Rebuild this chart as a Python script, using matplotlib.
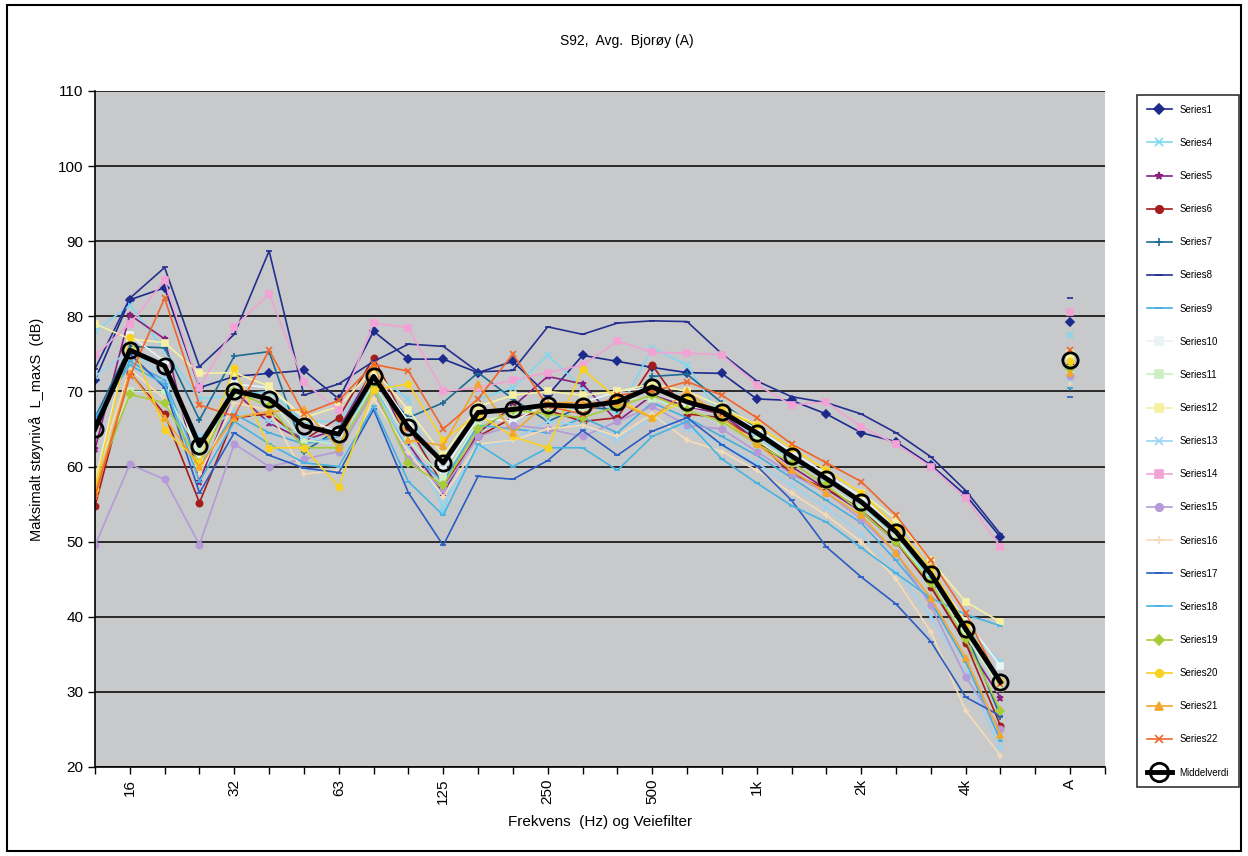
import numpy as np
import matplotlib
matplotlib.use("Agg")
import matplotlib.pyplot as plt
from matplotlib.patches import Rectangle

plt.rcParams['font.family'] = ['Liberation Sans', 'DejaVu Sans']

# 1/3-octave bands 12.5 Hz .. 5 kHz, then an empty slot, then the A-weighted value
bands = ['12.5', '16', '20', '25', '31.5', '40', '50', '63', '80', '100', '125', '160',
         '200', '250', '315', '400', '500', '630', '800', '1k', '1.25k', '1.6k', '2k',
         '2.5k', '3.15k', '4k', '5k']
tick_pos = [1, 4, 7, 10, 13, 16, 19, 22, 25, 28]
tick_labels = ['16', '32', '63', '125', '250', '500', '1k', '2k', '4k', 'A']

series_names = ['Series1', 'Series4', 'Series5', 'Series6', 'Series7', 'Series8', 'Series9',
                'Series10', 'Series11', 'Series12', 'Series13', 'Series14', 'Series15',
                'Series16', 'Series17', 'Series18', 'Series19', 'Series20', 'Series21',
                'Series22']

s1 = [71.5, 82.2, 83.8, 70.5, 72.0, 72.4, 72.8, 69.0, 78.0, 74.3, 74.3, 72.5, 74.0, 69.5,
      74.8, 74.0, 73.2, 72.5, 72.4, 69.0, 68.8, 67.0, 64.5, 63.3, 60.2, 56.2, 50.6]
s4 = [78.0, 81.5, 75.5, 69.0, 69.5, 70.0, 66.0, 66.0, 72.5, 69.0, 54.0, 69.0, 70.5, 74.8,
      70.5, 67.0, 75.8, 73.5, 66.5, 64.0, 61.0, 58.5, 55.0, 50.5, 45.0, 38.5, 34.0]
s5 = [62.3, 80.2, 77.0, 58.0, 70.0, 65.8, 63.5, 65.0, 73.0, 63.0, 56.5, 64.5, 68.0, 72.0,
      71.0, 66.0, 69.5, 68.0, 67.0, 63.5, 60.0, 57.0, 54.0, 50.0, 44.0, 36.5, 29.2]
s6 = [54.7, 72.5, 67.0, 55.2, 66.5, 67.0, 63.5, 66.5, 74.5, 65.3, 57.5, 64.0, 66.5, 67.5,
      66.0, 66.5, 73.5, 67.0, 66.5, 63.5, 59.0, 57.0, 54.5, 50.0, 44.0, 36.5, 25.5]
s7 = [66.5, 76.0, 75.8, 66.2, 74.7, 75.3, 62.0, 65.0, 71.5, 66.5, 68.5, 72.5, 69.0, 66.0,
      68.0, 67.5, 72.0, 72.3, 68.5, 65.0, 61.5, 58.5, 55.5, 51.5, 45.5, 38.0, 26.7]
s8 = [73.0, 82.4, 86.5, 73.3, 77.6, 88.7, 69.5, 71.0, 74.0, 76.3, 76.0, 72.6, 72.8, 78.6,
      77.6, 79.1, 79.4, 79.3, 75.0, 71.4, 69.3, 68.5, 67.0, 64.5, 61.3, 56.8, 51.0]
s9 = [66.0, 74.0, 71.5, 60.0, 67.0, 64.5, 63.0, 64.0, 71.0, 62.0, 58.0, 65.5, 65.0, 64.5,
      66.5, 64.5, 68.5, 66.5, 64.0, 61.5, 58.5, 55.5, 52.5, 47.5, 42.0, 34.0, 23.5]
s10 = [58.0, 77.5, 74.0, 61.0, 71.0, 70.5, 66.5, 64.5, 72.5, 66.0, 59.5, 66.5, 66.0, 68.5,
       68.5, 70.0, 70.5, 68.0, 67.5, 65.0, 62.0, 59.0, 56.0, 52.0, 46.0, 39.5, 33.5]
s11 = [59.0, 70.0, 70.0, 62.0, 69.5, 69.0, 63.5, 63.0, 71.0, 63.5, 58.5, 66.0, 67.0, 67.5,
       67.5, 69.0, 69.0, 67.5, 66.0, 63.5, 60.5, 57.5, 54.5, 50.5, 44.5, 37.5, 30.5]
s12 = [79.0, 77.0, 76.5, 72.4, 72.5, 70.7, 66.5, 68.0, 73.0, 67.5, 61.5, 68.0, 69.5, 70.0,
       69.5, 70.0, 71.0, 70.0, 68.0, 65.5, 62.5, 59.5, 56.5, 53.0, 47.5, 42.0, 39.3]
s13 = [72.0, 75.5, 72.0, 64.0, 67.5, 66.0, 64.0, 63.0, 70.5, 62.5, 55.0, 62.5, 63.5, 66.0,
       65.5, 63.5, 66.5, 65.0, 63.0, 60.5, 57.5, 54.5, 51.0, 46.0, 40.0, 32.5, 22.5]
s14 = [74.8, 79.0, 84.8, 70.5, 78.6, 83.0, 71.2, 67.5, 79.1, 78.5, 70.0, 70.5, 71.5, 72.5,
       73.5, 76.7, 75.2, 75.1, 74.9, 70.9, 68.2, 68.6, 65.3, 63.0, 60.0, 55.8, 49.3]
s15 = [49.5, 60.3, 58.3, 49.6, 63.0, 60.0, 61.0, 62.0, 70.0, 61.0, 57.0, 64.0, 65.5, 65.0,
       64.0, 66.0, 68.0, 65.5, 65.0, 62.0, 59.0, 56.5, 53.0, 48.5, 41.5, 32.0, 25.0]
s16 = [58.5, 73.0, 69.0, 59.0, 68.5, 67.5, 59.0, 59.5, 69.0, 62.0, 56.0, 63.0, 63.5, 65.0,
       65.5, 64.0, 67.0, 63.5, 62.0, 59.5, 56.5, 53.5, 50.0, 45.0, 38.0, 27.5, 21.5]
s17 = [66.0, 75.0, 70.5, 56.5, 64.5, 61.5, 59.8, 59.2, 67.6, 56.5, 49.5, 58.7, 58.3, 60.8,
       64.8, 61.5, 64.7, 66.5, 62.9, 60.1, 55.5, 49.3, 45.3, 41.7, 36.7, 29.3, 26.8]
s18 = [66.5, 73.5, 71.0, 58.0, 66.0, 63.0, 60.5, 60.0, 68.0, 58.0, 53.5, 63.0, 60.0, 62.5,
       62.5, 59.5, 64.0, 66.0, 61.0, 57.8, 54.8, 52.6, 49.2, 45.8, 42.5, 40.3, 38.8]
s19 = [57.5, 69.6, 68.5, 60.5, 70.0, 68.0, 62.5, 62.5, 70.5, 60.5, 57.5, 65.0, 67.5, 67.0,
       66.5, 68.0, 69.5, 67.5, 66.0, 63.0, 60.5, 57.5, 54.0, 50.0, 44.5, 37.0, 27.5]
s20 = [57.0, 77.3, 64.9, 60.5, 73.1, 62.5, 62.5, 57.3, 70.2, 71.0, 63.5, 67.0, 64.0, 62.5,
       73.0, 69.0, 66.5, 69.0, 67.5, 65.5, 62.5, 59.5, 56.5, 52.0, 46.5, 39.0, 31.5]
s21 = [56.5, 72.5, 66.5, 60.0, 66.5, 67.3, 67.6, 62.5, 73.5, 63.5, 62.8, 71.0, 64.5, 68.5,
       68.5, 68.5, 66.5, 70.0, 66.5, 63.0, 59.5, 56.5, 53.5, 48.5, 42.5, 34.5, 24.3]
s22 = [56.0, 72.0, 82.4, 68.2, 66.7, 75.5, 67.0, 68.8, 73.6, 72.7, 65.0, 69.0, 75.0, 68.0,
       67.0, 69.5, 70.0, 71.3, 69.5, 66.5, 63.0, 60.5, 58.0, 53.5, 47.5, 40.5, 31.0]

# A-weighted totals, same order as series_names
a_values = [79.3, 77.5, 73.0, 73.5, 70.5, 82.4, 71.0, 74.5, 73.0, 75.0, 71.5, 80.6, 72.0,
            71.0, 69.3, 70.5, 73.0, 74.0, 72.5, 75.5]

mean_vals = [65.0, 75.5, 73.4, 62.8, 70.1, 69.0, 65.4, 64.3, 72.0, 65.2, 60.5, 67.2, 67.6,
             68.2, 68.0, 68.6, 70.6, 68.6, 67.3, 64.5, 61.4, 58.4, 55.3, 51.3, 45.7, 38.4,
             31.3]
mean_a = 74.2

all_series = [s1, s4, s5, s6, s7, s8, s9, s10, s11, s12, s13, s14, s15, s16, s17, s18,
              s19, s20, s21, s22]

colors = ['#1c2a8c', '#7fd8f0', '#8a2080', '#a41c1c', '#1b6b94', '#24308e', '#44aee0',
          '#e8f4f4', '#cdeec4', '#f6f0a2', '#9ad4f2', '#f2a2d4', '#b49ad8', '#f6dcb4',
          '#2a5cc4', '#46b4e2', '#a6cc3a', '#f8d21e', '#f2a62a', '#f0662a']
markers = ['D', 'x', '*', 'o', '+', '_', '_', 's', 's', 's', 'x', 's', 'o', '+', '_', '_',
           'D', 'o', '^', 'x']

fig = plt.figure(figsize=(12.48, 8.56), dpi=100)
ax = fig.add_axes([0.0761, 0.104, 0.8093, 0.7897])
ax.set_facecolor('#c8c9cb')

x_bands = np.arange(len(bands))
x_all = np.append(x_bands, [len(bands), len(bands) + 1])

for name, vals, a, c, m in zip(series_names, all_series, a_values, colors, markers):
    y = np.array(vals + [np.nan, a])
    ax.plot(x_all, y, color=c, lw=1.2, marker=m, ms=4.5, mew=1.2, label=name, zorder=2)

ax.plot(x_all, np.array(mean_vals + [np.nan, mean_a]), color='black', lw=3.5,
        marker='o', ms=11, mfc='none', mec='black', mew=2, label='Middelverdi', zorder=5)

ax.set_xlim(0, 29)
ax.set_ylim(20, 110)
ax.set_yticks(range(20, 111, 10))
ax.yaxis.grid(True, color='black', lw=1.1)
ax.set_axisbelow(True)
ax.set_xticks(tick_pos)
ax.set_xticklabels(tick_labels, rotation=90, fontsize=11)
ax.set_xticks(range(0, 30), minor=True)
ax.tick_params(axis='x', which='both', direction='out', length=5, width=1)
ax.tick_params(axis='y', direction='out', length=5, width=1, labelsize=11)
for side in ['top', 'right']:
    ax.spines[side].set_visible(False)
ax.spines['bottom'].set_linewidth(1.2)
ax.spines['left'].set_linewidth(1.2)

ax.set_xlabel('Frekvens  (Hz) og Veiefilter', fontsize=11, labelpad=8)
ax.set_ylabel('Maksimalt støynivå  L_maxS  (dB)', fontsize=10.5, labelpad=10)
fig.text(0.502, 0.952, 'S92,  Avg.  Bjorøy (A)', ha='center', va='center', fontsize=10)

leg = fig.legend(loc='upper left', bbox_to_anchor=(0.911, 0.889), fontsize=7,
                 frameon=True, fancybox=False, edgecolor='black', labelspacing=2.38,
                 handlelength=2.6, borderpad=1.0, borderaxespad=0, markerscale=1.2)
leg.get_frame().set_linewidth(1.2)

fig.patches.append(Rectangle((0.006, 0.006), 0.988, 0.988, transform=fig.transFigure,
                             fill=False, edgecolor='black', lw=1.5))

fig.savefig('out.png', dpi=100, facecolor='white')
